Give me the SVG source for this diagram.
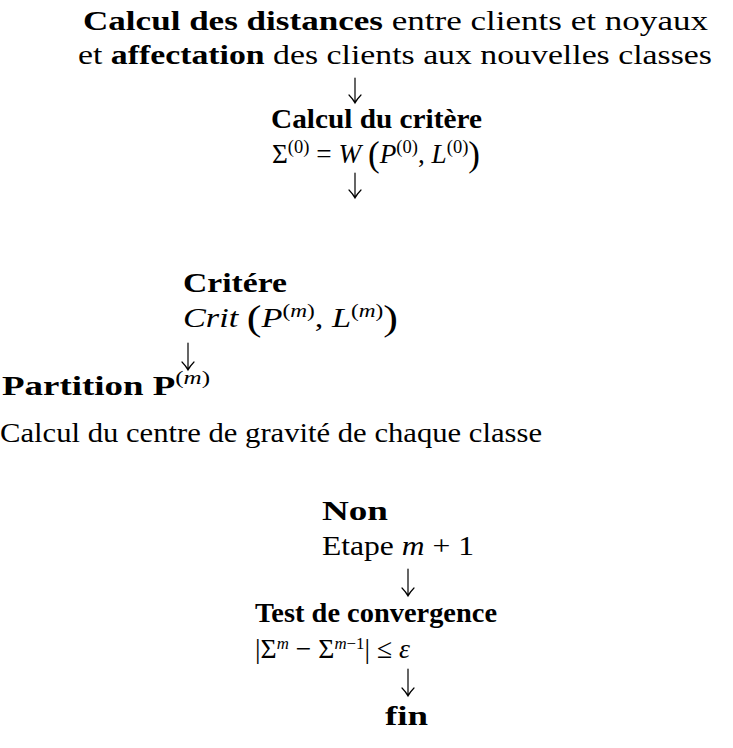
<svg xmlns="http://www.w3.org/2000/svg" width="733" height="748" viewBox="0 0 733 748">
<style>
text{font-family:"Liberation Serif","DejaVu Serif",serif;font-size:28px;fill:#000}
.b{font-weight:bold}
.i{font-style:italic}
.s{font-size:19px}
.t{font-size:17px}
.p{font-size:36px}
.arr{fill:none;stroke:#000;stroke-width:1.2;stroke-linecap:round}
</style>
<rect width="733" height="748" fill="#fff"/>
<g id="step-distances">
<text x="83" y="30" textLength="625" lengthAdjust="spacingAndGlyphs"><tspan class="b">Calcul des distances</tspan> entre clients et noyaux</text>
<text x="78" y="64" textLength="634" lengthAdjust="spacingAndGlyphs">et <tspan class="b">affectation</tspan> des clients aux nouvelles classes</text>
</g>
<g id="step-critere0">
<text x="271" y="128" class="b" textLength="211" lengthAdjust="spacingAndGlyphs">Calcul du critère</text>
<text x="272" y="163" textLength="208" lengthAdjust="spacingAndGlyphs">Σ<tspan class="s" dy="-10">(0)</tspan><tspan dy="10"> = </tspan><tspan class="i">W</tspan> <tspan class="p" dy="3">(</tspan><tspan class="i" dy="-3">P</tspan><tspan class="s" dy="-10">(0)</tspan><tspan dy="10">, </tspan><tspan class="i">L</tspan><tspan class="s" dy="-10">(0)</tspan><tspan class="p" dy="13">)</tspan></text>
</g>
<g id="critere-m">
<text x="183" y="292" class="b" textLength="104" lengthAdjust="spacingAndGlyphs">Critére</text>
<text x="183" y="327" textLength="215" lengthAdjust="spacingAndGlyphs"><tspan class="i">Crit</tspan> <tspan class="p" dy="3">(</tspan><tspan class="i" dy="-3">P</tspan><tspan class="s" dy="-10">(<tspan class="i">m</tspan>)</tspan><tspan dy="10">, </tspan><tspan class="i">L</tspan><tspan class="s" dy="-10">(<tspan class="i">m</tspan>)</tspan><tspan class="p" dy="13">)</tspan></text>
</g>
<g id="partition">
<text x="2" y="395" textLength="208" lengthAdjust="spacingAndGlyphs"><tspan class="b">Partition P</tspan><tspan class="s" dy="-11">(<tspan class="i">m</tspan>)</tspan></text>
<text x="0" y="442" textLength="542" lengthAdjust="spacingAndGlyphs">Calcul du centre de gravité de chaque classe</text>
</g>
<g id="non-etape">
<text x="322" y="520" class="b" textLength="66" lengthAdjust="spacingAndGlyphs">Non</text>
<text x="322" y="555" textLength="152" lengthAdjust="spacingAndGlyphs">Etape <tspan class="i">m</tspan> + 1</text>
</g>
<g id="test-convergence">
<text x="255" y="622" class="b" textLength="242" lengthAdjust="spacingAndGlyphs">Test de convergence</text>
<text x="255" y="658" textLength="155" lengthAdjust="spacingAndGlyphs">|Σ<tspan class="t i" dy="-9">m</tspan><tspan dy="9"> − Σ</tspan><tspan class="t" dy="-9"><tspan class="i">m</tspan>−1</tspan><tspan dy="9">| ≤ </tspan><tspan class="i">ε</tspan></text>
</g>
<g id="fin">
<text x="385" y="725" class="b" textLength="43" lengthAdjust="spacingAndGlyphs">fin</text>
</g>
<g id="connectors">
<path class="arr" d="M355,78V103M349,95Q353,99 355,103Q357,99 361,95"/>
<path class="arr" d="M355,173V198M349,190Q353,194 355,198Q357,194 361,190"/>
<path class="arr" d="M188,343V370M182,362Q186,366 188,370Q190,366 194,362"/>
<path class="arr" d="M408,569V596M402,588Q406,592 408,596Q410,592 414,588"/>
<path class="arr" d="M408,669V696M402,688Q406,692 408,696Q410,692 414,688"/>
</g>
</svg>
